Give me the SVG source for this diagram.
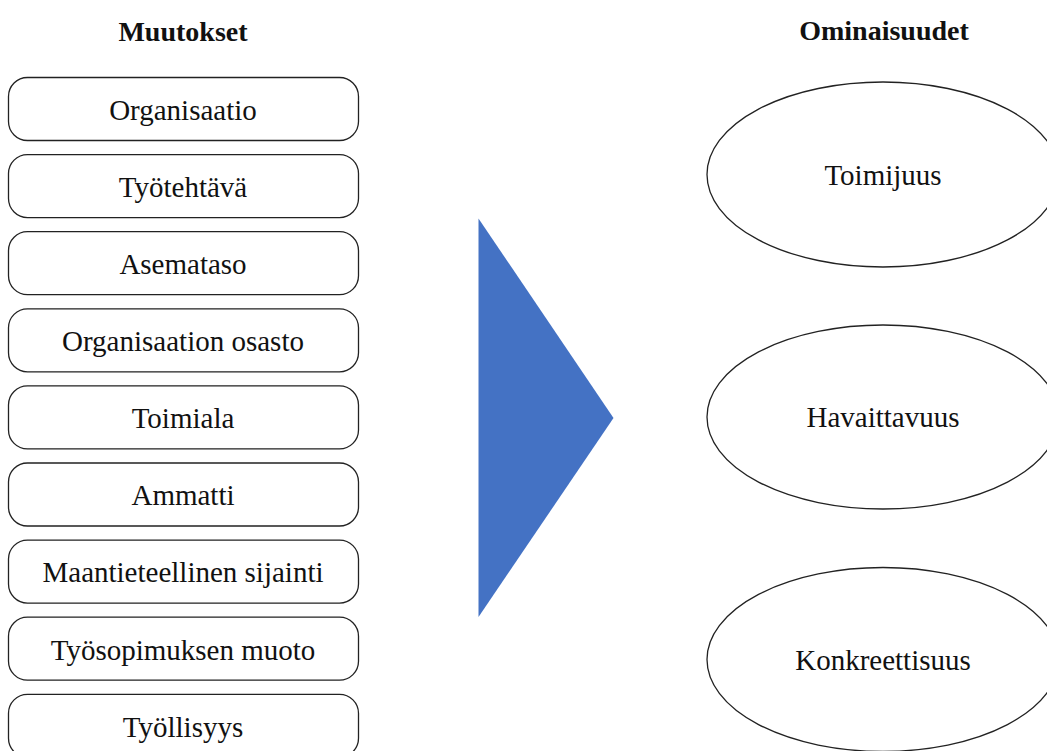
<svg xmlns="http://www.w3.org/2000/svg" width="1047" height="751" viewBox="0 0 1047 751">
<style>
.box{fill:#fff;stroke:#222;stroke-width:1.3}
.ell{fill:#fff;stroke:#222;stroke-width:1.3}
.lbl{font-family:"Liberation Serif","Times New Roman",serif;font-size:29px;fill:#111;text-anchor:middle}
.ttl{font-family:"Liberation Serif","Times New Roman",serif;font-size:28px;font-weight:bold;fill:#111;text-anchor:middle}
</style>
<rect width="1047" height="751" fill="#fff"/>
<text class="ttl" x="183" y="41">Muutokset</text>
<text class="ttl" x="884" y="40">Ominaisuudet</text>
<g id="n1"><rect class="box" x="8.5" y="77.5" width="350" height="63" rx="19"/><text class="lbl" x="183" y="119.5">Organisaatio</text></g>
<g id="n2"><rect class="box" x="8.5" y="154.6" width="350" height="63" rx="19"/><text class="lbl" x="183" y="196.6">Työtehtävä</text></g>
<g id="n3"><rect class="box" x="8.5" y="231.7" width="350" height="63" rx="19"/><text class="lbl" x="183" y="273.7">Asemataso</text></g>
<g id="n4"><rect class="box" x="8.5" y="308.8" width="350" height="63" rx="19"/><text class="lbl" x="183" y="350.8">Organisaation osasto</text></g>
<g id="n5"><rect class="box" x="8.5" y="385.9" width="350" height="63" rx="19"/><text class="lbl" x="183" y="427.9">Toimiala</text></g>
<g id="n6"><rect class="box" x="8.5" y="463" width="350" height="63" rx="19"/><text class="lbl" x="183" y="505">Ammatti</text></g>
<g id="n7"><rect class="box" x="8.5" y="540.1" width="350" height="63" rx="19"/><text class="lbl" x="183" y="582.1">Maantieteellinen sijainti</text></g>
<g id="n8"><rect class="box" x="8.5" y="617.2" width="350" height="63" rx="19"/><text class="lbl" x="183" y="659.7">Työsopimuksen muoto</text></g>
<g id="n9"><rect class="box" x="8.5" y="694.3" width="350" height="63" rx="19"/><text class="lbl" x="183" y="736.8">Työllisyys</text></g>
<g id="arrow"><polygon points="478.5,218.5 613.5,418 478.5,617" fill="#4472C4"/></g>
<g id="e1"><ellipse class="ell" cx="883" cy="174.5" rx="176" ry="92.5"/><text class="lbl" x="883" y="185">Toimijuus</text></g>
<g id="e2"><ellipse class="ell" cx="883" cy="417" rx="176" ry="92"/><text class="lbl" x="883" y="427">Havaittavuus</text></g>
<g id="e3"><ellipse class="ell" cx="883" cy="659.5" rx="176" ry="92"/><text class="lbl" x="883" y="670">Konkreettisuus</text></g>
<g id="connectors"></g>
</svg>
